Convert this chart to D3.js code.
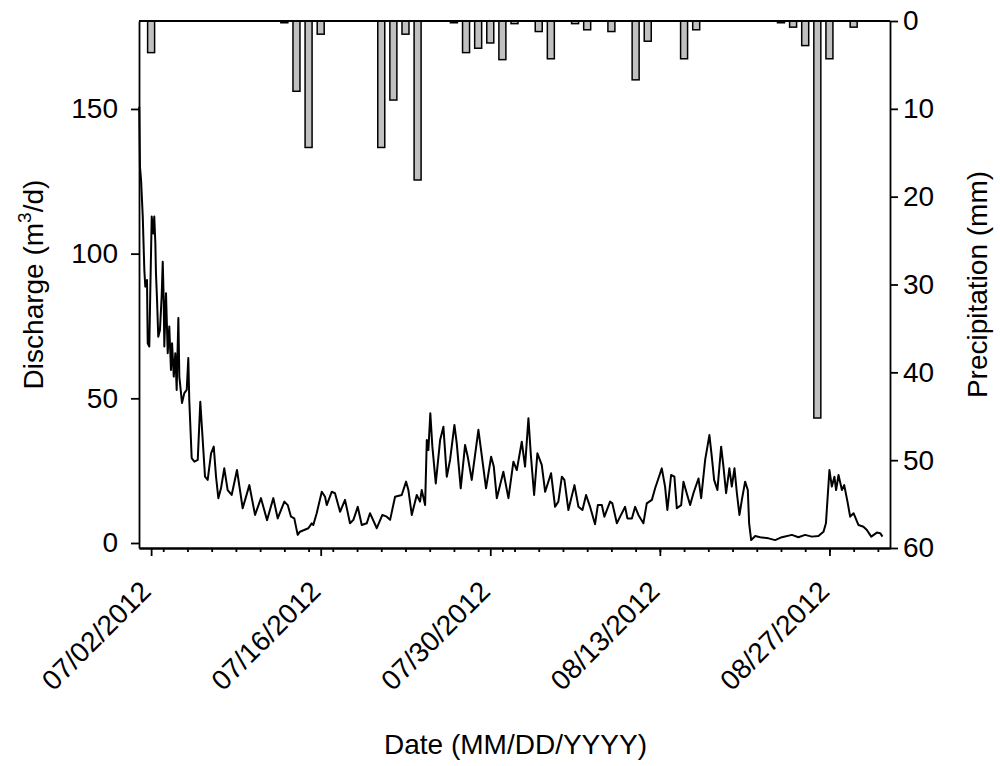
<!DOCTYPE html>
<html>
<head>
<meta charset="utf-8">
<script src="https://cdn.jsdelivr.net/npm/d3@7"></script>
<style>
  body { margin: 0; background: #fff; }
  svg text { font-family: "Liberation Sans", Arial, sans-serif; fill: #000; }
</style>
</head>
<body>
<svg id="chart" width="1000" height="766"></svg>
<script>
// discharge: days after 07/01/2012 00:00 and m3/d
const dischargeDay = [0.02,0.08,0.17,0.31,0.44,0.52,0.66,0.72,0.85,0.93,1.05,1.18,1.26,1.35,1.40,1.49,1.59,1.73,1.87,1.96,
  2.04,2.09,2.23,2.37,2.50,2.64,2.73,2.87,3.00,3.11,3.25,3.33,3.55,3.74,3.94,4.07,4.15,4.35,4.57,4.85,
  5.06,5.26,5.45,5.67,5.95,6.17,6.36,6.55,6.77,7.04,7.32,7.65,8.09,8.56,9.11,9.58,10.07,10.57,11.09,11.45,
  12.00,12.28,12.55,12.82,13.10,13.29,13.98,14.26,14.39,14.67,15.09,15.36,15.50,15.91,16.18,16.60,17.01,17.42,17.70,18.06,
  18.39,18.80,19.07,19.63,20.09,20.45,20.73,21.14,21.69,22.05,22.24,22.52,22.93,23.20,23.34,23.62,23.76,23.89,24.05,24.22,
  24.50,24.86,25.13,25.41,25.68,26.04,26.23,26.56,26.92,27.14,27.47,28.02,28.24,28.65,29.07,29.29,29.54,30.08,30.50,30.91,
  31.19,31.60,31.87,32.15,32.35,32.62,32.89,33.25,33.53,34.02,34.35,34.62,34.91,35.12,35.45,35.95,36.28,36.61,36.91,37.24,
  37.65,37.88,38.21,38.42,38.89,39.08,39.45,39.72,40.13,40.32,40.69,40.96,41.23,41.64,41.92,42.34,42.61,42.88,43.16,43.43,
  43.62,43.93,44.20,44.40,44.76,44.95,45.14,45.50,45.77,46.19,46.41,46.74,47.09,47.29,47.48,47.75,48.06,48.25,48.47,48.74,
  48.94,49.16,49.36,49.57,49.77,50.04,50.26,50.37,50.54,50.87,51.28,51.97,52.52,53.07,53.90,54.44,54.99,55.55,56.09,56.51,
  56.71,57.00,57.20,57.41,57.55,57.75,58.03,58.22,58.49,58.71,58.99,59.40,59.81,60.09,60.45,60.92,61.19,61.38];
const dischargeQ = [150.8,130,125.5,112.8,94.4,88.6,90.9,69,67.9,86.4,112.8,107,112.8,103.7,93.3,84,71.3,73.6,85.1,97.2,
  84,67.9,86.3,65.6,74.8,59.8,69,57.5,65.6,52.9,77.8,57.5,48.4,51.8,52.9,63.9,49.4,29.3,28.1,28.7,
  48.8,35.6,22.9,21.8,31,33.3,22.9,15.5,18.9,25.8,18.3,16.6,25.2,12,20,9.7,15.5,7.9,15.5,8.5,
  14.3,13.1,9.1,8.5,2.8,3.9,5.1,6.8,6.2,10.3,17.7,16,13.1,17.7,17.2,10.8,14.9,6.8,8,12.5,
  6.2,6.8,10.3,5.1,9.7,9.1,8,16,16.6,21.2,18.3,9.7,16.6,14.3,18.3,13.1,35.6,32.1,44.8,33.3,
  20.6,35.6,40.2,22.9,28.7,40.8,34.5,18.9,33.9,29.8,21.8,39.1,32.1,18.9,29.8,26.4,15.5,24.6,15.5,28.1,
  25.2,35,26.4,43.1,30.4,16.6,31,27,17.7,24.1,12.5,14.3,22.9,21.8,11.4,20,12.5,11.4,16.6,12.5,
  6.5,13.1,13.1,9.1,14.3,13.7,6.8,9.1,12.5,8.5,8.5,12.5,9.7,6.8,13.7,14.9,18.9,22.3,25.8,19.5,
  11.4,23.5,22.9,12,13.1,21.2,18.3,13.1,17.2,22.3,15.5,28.7,37.3,29.8,21.8,18.3,33.3,26.4,17.2,25.8,
  19.5,25.8,17.2,9.7,14.9,21.2,18.3,6.8,1.0,2.4,2.0,1.6,1.0,2.0,2.8,2.0,2.8,2.2,2.4,3.9,
  6.8,25.2,19.5,22.9,18.3,23.5,18.3,20,14.3,9.1,10.3,6.2,5.6,4.5,2.2,3.6,3.4,2.2];

// daily precipitation (mm)
const rainDates = ["2012-07-02","2012-07-13","2012-07-14","2012-07-15","2012-07-16","2012-07-21","2012-07-22","2012-07-23",
  "2012-07-24","2012-07-27","2012-07-28","2012-07-29","2012-07-30","2012-07-31","2012-08-01","2012-08-03","2012-08-04",
  "2012-08-06","2012-08-07","2012-08-09","2012-08-11","2012-08-12","2012-08-15","2012-08-16","2012-08-23","2012-08-24",
  "2012-08-25","2012-08-26","2012-08-27","2012-08-29"];
const rainMm = [3.6,0.2,8.0,14.4,1.5,14.4,9.0,1.5,18.1,0.2,3.6,3.1,2.5,4.4,0.3,1.2,4.3,0.3,1.0,1.2,6.7,2.3,4.3,1.0,0.2,0.7,2.8,45.2,4.3,0.7];

const dischargeTicks = [0, 50, 100, 150];
const rainTicks = [0, 10, 20, 30, 40, 50, 60];
const dateTicks = ["2012-07-02","2012-07-16","2012-07-30","2012-08-13","2012-08-27"];

const parse = d3.utcParse("%Y-%m-%d");
const start = parse("2012-07-01");
const dayMs = 86400000;

const plotLeft = 139, plotRight = 890, plotTop = 21, plotBottom = 548;
const fontSize = '28px';
const svg = d3.select('#chart');

const x = d3.scaleUtc()
  .domain([start, parse("2012-09-01")])
  .range([plotLeft, plotRight]);
const y = d3.scaleLinear().domain([-1.73, 180.4]).range([plotBottom, plotTop]);
const yRain = d3.scaleLinear().domain([0, 60]).range([plotTop, plotBottom]);

// precipitation bars hanging from the top
svg.append('g')
  .selectAll('rect')
  .data(rainDates.map((d, i) => ({date: parse(d), mm: rainMm[i]})))
  .enter()
  .append('rect')
  .attr('x', d => x(d.date) - 3.5)
  .attr('y', yRain(0))
  .attr('width', 7)
  .attr('height', d => yRain(d.mm) - yRain(0))
  .attr('fill', '#c0c0c0')
  .attr('stroke', '#000')
  .attr('stroke-width', 1.5)

// discharge line
const line = d3.line()
  .x(d => x(new Date(start.getTime() + d[0] * dayMs)))
  .y(d => y(d[1]))

svg.append('path')
  .datum(dischargeDay.map((t, i) => [t, dischargeQ[i]]))
  .attr('d', line)
  .attr('fill', 'none')
  .attr('stroke', '#000')
  .attr('stroke-width', 2)
  .attr('stroke-linejoin', 'round')

// frame top line
svg.append('line')
  .attr('x1', plotLeft).attr('x2', plotRight)
  .attr('y1', plotTop).attr('y2', plotTop)
  .attr('stroke', '#000')
  .attr('stroke-width', 1.8)

// left axis
const gLeft = svg.append('g')
  .attr('transform', `translate(${plotLeft},0)`)
  .call(d3.axisLeft(y).tickValues(dischargeTicks).tickSize(8).tickSizeOuter(0).tickPadding(13))
gLeft.selectAll('text').style('font-size', fontSize)

// right axis
const gRight = svg.append('g')
  .attr('transform', `translate(${plotRight},0)`)
  .call(d3.axisRight(yRain).tickValues(rainTicks).tickSize(8).tickSizeOuter(0).tickPadding(5))
gRight.selectAll('text').style('font-size', fontSize)

// bottom axis: minor ticks every 2 days, labelled majors every 14 days
const minorDates = d3.utcDay.every(2).range(parse("2012-07-02"), parse("2012-09-01"));
svg.append('g')
  .attr('transform', `translate(0,${plotBottom})`)
  .call(d3.axisBottom(x).tickValues(minorDates).tickSize(4).tickSizeOuter(0).tickFormat(''))

const gBottom = svg.append('g')
  .attr('transform', `translate(0,${plotBottom})`)
  .call(d3.axisBottom(x).tickValues(dateTicks.map(parse)).tickSize(8).tickSizeOuter(0)
    .tickFormat(d3.utcFormat('%m/%d/%Y')))
gBottom.selectAll('text')
  .style('font-size', fontSize)
  .style('text-anchor', 'end')
  .attr('dy', 0)
  .attr('y', 0)
  .attr('transform', 'translate(1,45) rotate(-45)')

svg.selectAll('.domain, .tick line').attr('stroke', '#000').attr('stroke-width', 1.8)

// axis titles
const yTitle = svg.append('text')
  .attr('transform', `translate(43,${(plotTop + plotBottom) / 2}) rotate(-90)`)
  .style('font-size', fontSize)
  .style('text-anchor', 'middle')
yTitle.append('tspan').text('Discharge (m')
yTitle.append('tspan').text('3').style('font-size', '19px').attr('dy', -12)
yTitle.append('tspan').text('/d)').attr('dy', 12)

svg.append('text')
  .attr('transform', `translate(987,${(plotTop + plotBottom) / 2}) rotate(-90)`)
  .style('font-size', fontSize)
  .style('text-anchor', 'middle')
  .text('Precipitation (mm)')

svg.append('text')
  .attr('x', (plotLeft + plotRight) / 2 + 1)
  .attr('y', 754)
  .style('font-size', fontSize)
  .style('text-anchor', 'middle')
  .text('Date (MM/DD/YYYY)')
</script>
</body>
</html>
